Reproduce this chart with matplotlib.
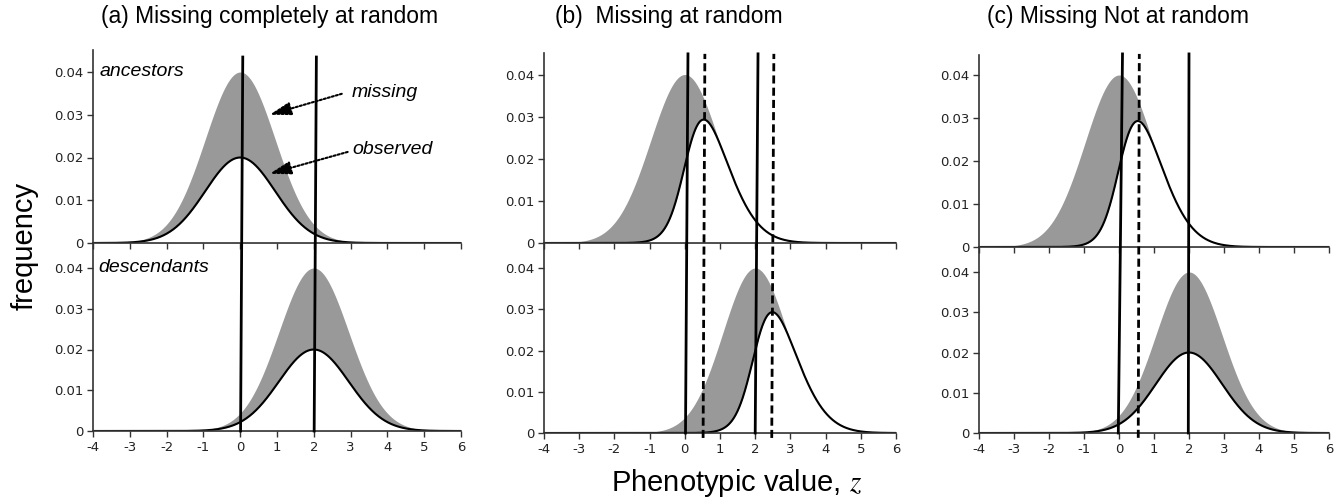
import numpy as np
import matplotlib.pyplot as plt
from matplotlib.lines import Line2D

plt.rcParams['font.family'] = ['Liberation Sans', 'DejaVu Sans']
plt.rcParams['mathtext.fontset'] = 'stix'

W, H = 1341, 500

# ---- data ----
x_ticks = [-4, -3, -2, -1, 0, 1, 2, 3, 4, 5, 6]
x_labels = ['-4', '-3', '-2', '-1', '0', '1', '2', '3', '4', '5', '6']
y_ticks = [0, 0.01, 0.02, 0.03, 0.04]
y_labels = ['0', '0.01', '0.02', '0.03', '0.04']

titles = ['(a) Missing completely at random', '(b)  Missing at random',
          '(c) Missing Not at random']

# panels in order: a top, a bottom, b top, b bottom, c top, c bottom
full_peak = 0.04
full_mean = [0.0, 2.0, 0.0, 2.0, 0.0, 2.0]
full_sd = [0.95, 0.95, 0.97, 0.92, 0.97, 0.95]
obs_mean = [0.0, 2.0, 0.0, 1.95, 0.0, 2.0]
obs_sd = [0.95, 0.95, 1.0, 1.0, 1.0, 0.95]
sel_slope = [0.0, 0.0, 3.5, 3.5, 3.5, 0.0]   # 0 -> half observed at random
sel_mid = [0.0, 0.0, 0.05, 2.0, 0.05, 0.0]

# vertical mean lines: column, x at bottom, x at top, dashed
line_col = [0, 0, 1, 1, 1, 1, 2, 2, 2]
line_x_bot = [0.01, 2.01, 0.02, 2.0, 0.52, 2.47, -0.02, 1.98, 0.55]
line_x_top = [0.07, 2.07, 0.09, 2.08, 0.57, 2.53, 0.10, 2.0, 0.58]
line_dashed = [False, False, False, False, True, True, False, False, True]

# ---- layout (pixels) ----
col_left = [93, 544, 979]
col_right = [461, 896, 1329]
top_end = [50, 53, 55]
top_zero = [243, 243, 247]
top_004 = [72, 74.5, 75]
bot_zero = [431, 433, 433]
bot_004 = [268, 268, 272]
line_top_y = [0.0435, 0.0449, 0.0449]
title_x = [270, 669, 1118]

fig = plt.figure(figsize=(W / 100, H / 100), dpi=100)


def style(ax, show_labels):
    for s in ['top', 'right']:
        ax.spines[s].set_visible(False)
    for s in ['left', 'bottom']:
        ax.spines[s].set_linewidth(1.2)
        ax.spines[s].set_color('#333333')
    ax.set_xlim(-4, 6)
    ax.set_xticks(x_ticks)
    ax.set_yticks(y_ticks)
    ax.set_yticklabels(y_labels, family='DejaVu Sans', fontsize=9.5, color='#222222')
    if show_labels:
        ax.set_xticklabels(x_labels, family='DejaVu Sans', fontsize=9.5, color='#222222')
    else:
        ax.set_xticklabels([])
    ax.tick_params(direction='out', length=4, width=1, color='#333333', pad=3)
    ax.patch.set_alpha(0)


x = np.linspace(-4, 6, 800)
axes = []
for c in range(3):
    left = col_left[c] / W
    width = (col_right[c] - col_left[c]) / W
    # top panel (ancestors)
    ax_t = fig.add_axes([left, 1 - top_zero[c] / H, width, (top_zero[c] - top_end[c]) / H])
    ax_t.set_ylim(0, (top_zero[c] - top_end[c]) / (top_zero[c] - top_004[c]) * 0.04)
    # bottom panel (descendants)
    ax_b = fig.add_axes([left, 1 - bot_zero[c] / H, width, (bot_zero[c] - top_zero[c]) / H])
    ax_b.set_ylim(0, (bot_zero[c] - top_zero[c]) / (bot_zero[c] - bot_004[c]) * 0.04)
    for k, ax in enumerate([ax_t, ax_b]):
        i = 2 * c + k
        full = full_peak * np.exp(-(x - full_mean[i]) ** 2 / (2 * full_sd[i] ** 2))
        sel = 1 / (1 + np.exp(-sel_slope[i] * (x - sel_mid[i])))
        obs = full_peak * np.exp(-(x - obs_mean[i]) ** 2 / (2 * obs_sd[i] ** 2)) * sel
        ax.fill_between(x, 0, full, color='#999999', lw=0)
        ax.fill_between(x, 0, obs, color='white', lw=0)
        ax.plot(x, obs, color='black', lw=1.5)
        style(ax, k == 1)
    axes.append((ax_t, ax_b))
    fig.text(title_x[c] / W, 1 - 17 / H, titles[c], ha='center', va='center', fontsize=16.5)

# vertical lines spanning both panels
inv = fig.transFigure.inverted()
for j in range(len(line_col)):
    ax_t, ax_b = axes[line_col[j]]
    y0 = -0.0012 if line_dashed[j] else 0
    p0 = inv.transform(ax_b.transData.transform((line_x_bot[j], y0)))
    p1 = inv.transform(ax_t.transData.transform((line_x_top[j], line_top_y[line_col[j]])))
    ls = (0, (2.9, 1.5)) if line_dashed[j] else '-'
    fig.add_artist(Line2D([p0[0], p1[0]], [p0[1], p1[1]], color='black', lw=2.0,
                          linestyle=ls, transform=fig.transFigure))

# annotations in panel (a)
ax_t, ax_b = axes[0]
ax_t.text(-3.82, 0.0402, 'ancestors', style='italic', fontsize=14, va='center')
ax_b.text(-3.86, 0.0402, 'descendants', style='italic', fontsize=14, va='center')
ax_t.text(3.03, 0.0351, 'missing', style='italic', fontsize=14, va='center')
ax_t.text(3.06, 0.0218, 'observed', style='italic', fontsize=14, va='center')
arrow = dict(arrowstyle='-|>,head_length=1.3,head_width=0.4', linestyle=(0, (1, 1)),
             color='black', lw=1.5, shrinkA=0, shrinkB=0)
ax_t.annotate('', xy=(0.80, 0.0300), xytext=(2.76, 0.0349), arrowprops=arrow)
ax_t.annotate('', xy=(0.80, 0.0162), xytext=(2.92, 0.0213), arrowprops=arrow)

fig.text(25 / W, 1 - 246 / H, 'frequency', rotation=90, ha='center', va='center', fontsize=21)
fig.text(737 / W, 1 - 483 / H, 'Phenotypic value, $z$', ha='center', va='center', fontsize=21)

fig.savefig('out.png', dpi=100)
